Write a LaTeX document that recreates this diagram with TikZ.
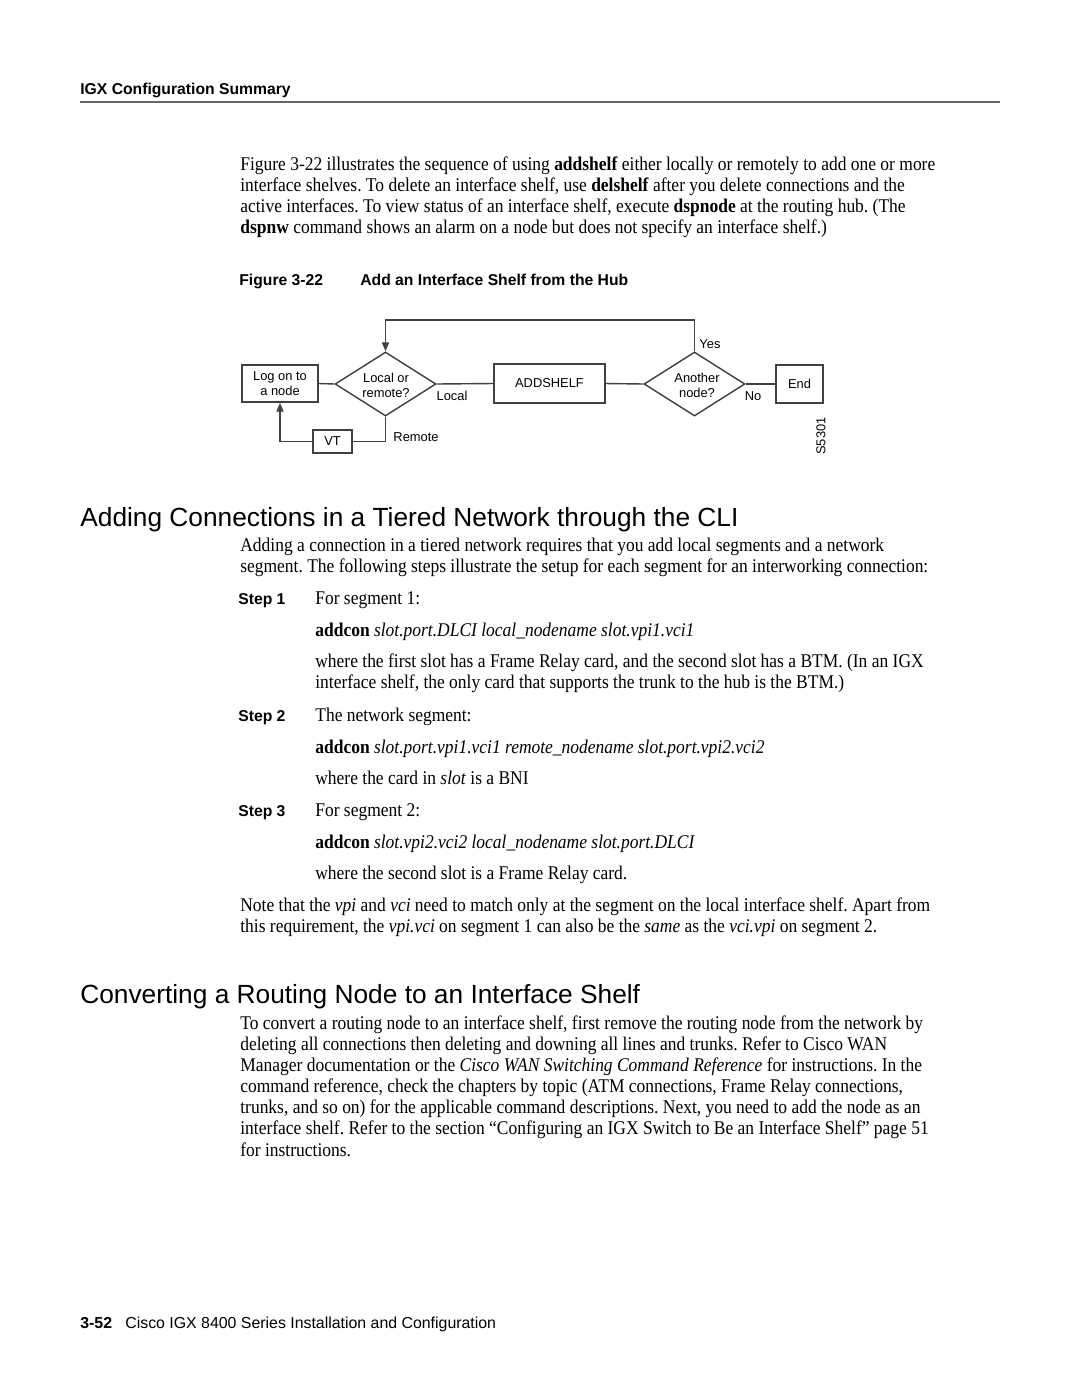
\documentclass[tikz,border=0pt]{standalone}
\usepackage{fontspec}
\setmainfont{Liberation Serif}[FakeStretch=0.9]
\setsansfont{Liberation Sans}
\usetikzlibrary{arrows.meta,shapes.geometric}
\definecolor{lc}{gray}{0.25}
\frenchspacing
\begin{document}
\begin{tikzpicture}[x=0.5667pt,y=-0.5667pt,
  body/.style={anchor=base west, inner sep=0, font=\fontsize{11}{12}\selectfont},
  sbold/.style={anchor=base west, inner sep=0, font=\fontsize{8.9}{10}\sffamily\bfseries},
  head/.style={anchor=base west, inner sep=0, font=\fontsize{14.9}{17}\sffamily},
  dg/.style={font=\fontsize{7.3}{8.6}\sffamily, inner sep=0, align=center},
  box/.style={rectangle, draw=lc, line width=0.8pt, dg},
  dia/.style={diamond, draw=lc, line width=0.8pt, inner sep=0, minimum width=57.2pt, minimum height=36.3pt},
  conn/.style={draw=lc, line width=0.8pt},
  arr/.style={conn, -{Triangle[length=5pt,width=4pt]}}]
\useasboundingbox[fill=white] (0,0) rectangle (1080,1397);

% header
\node[sbold] (hdr) at (80,94) {IGX Configuration Summary};
\draw[black!60, line width=1.1pt] (80,102) -- (1000,102);

% paragraph 1
\node[body] (p1a) at (240,170) {Figure 3-22 illustrates the sequence of using \textbf{addshelf} either locally or remotely to add one or more};
\node[body] (p1b) at (240,191) {interface shelves. To delete an interface shelf, use \textbf{delshelf} after you delete connections and the};
\node[body] (p1c) at (240,212) {active interfaces. To view status of an interface shelf, execute \textbf{dspnode} at the routing hub. (The};
\node[body] (p1d) at (240,233) {\textbf{dspnw} command shows an alarm on a node but does not specify an interface shelf.)};

% caption
\node[sbold] (capn) at (239,285) {Figure 3-22};
\node[sbold] (capt) at (360,285) {Add an Interface Shelf from the Hub};

% diagram
\node[box, minimum width=43.1pt, minimum height=21pt] (log) at (280,383.5) {Log on to\\a node};
\node[dia] (lr) at (385.5,384) {};
\node[dg] (lrt) at (386,385) {Local or\\remote?};
\node[box, minimum width=62.9pt, minimum height=22.1pt] (add) at (549.5,383.5) {ADDSHELF};
\node[dia] (an) at (694.5,384) {};
\node[dg] (ant) at (697,385) {Another\\node?};
\node[box, minimum width=26.6pt, minimum height=21.5pt] (end) at (799.5,384) {End};
\node[box, minimum width=22.1pt, minimum height=13pt] (vt) at (332.5,441.5) {VT};
\coordinate (top) at (385.5,320);

\draw[conn] (log.east) -- (lr.west);
\draw[conn] (lr.east) -- (add.west);
\draw[conn] (add.east) -- (an.west);
\draw[conn] (an.east) -- (end.west);
\draw[arr] (an.north) |- (top) -- (lr.north);
\draw[conn] (lr.south) |- (vt.east);
\draw[arr] (vt.west) -| (log.south);

\node[dg] (lloc) at (452,396) {Local};
\node[dg] (lrem) at (416,437) {Remote};
\node[dg] (lyes) at (710,344) {Yes};
\node[dg] (lno) at (753,396) {No};
\node[dg, rotate=90] (lid) at (821,436) {S5301};

% heading 1
\node[head] (h1) at (80,526) {Adding Connections in a Tiered Network through the CLI};
\node[body] (a1) at (240,551) {Adding a connection in a tiered network requires that you add local segments and a network};
\node[body] (a2) at (240,572) {segment. The following steps illustrate the setup for each segment for an interworking connection:};

\node[sbold] (s1) at (238,604) {Step 1};
\node[body] (s1a) at (315,604) {For segment 1:};
\node[body] (s1b) at (315,636) {\textbf{addcon} \textit{slot.port.DLCI local\_nodename slot.vpi1.vci1}};
\node[body] (s1c) at (315,667) {where the first slot has a Frame Relay card, and the second slot has a BTM. (In an IGX};
\node[body] (s1d) at (315,688) {interface shelf, the only card that supports the trunk to the hub is the BTM.)};

\node[sbold] (s2) at (238,721) {Step 2};
\node[body] (s2a) at (315,721) {The network segment:};
\node[body] (s2b) at (315,753) {\textbf{addcon} \textit{slot.port.vpi1.vci1 remote\_nodename slot.port.vpi2.vci2}};
\node[body] (s2c) at (315,784) {where the card in \textit{slot} is a BNI};

\node[sbold] (s3) at (238,816) {Step 3};
\node[body] (s3a) at (315,816) {For segment 2:};
\node[body] (s3b) at (315,848) {\textbf{addcon} \textit{slot.vpi2.vci2 local\_nodename slot.port.DLCI}};
\node[body] (s3c) at (315,879) {where the second slot is a Frame Relay card.};

\node[body] (n1) at (240,911) {Note that the \textit{vpi} and \textit{vci} need to match only at the segment on the local interface shelf. Apart from};
\node[body] (n2) at (240,932) {this requirement, the \textit{vpi.vci} on segment 1 can also be the \textit{same} as the \textit{vci.vpi} on segment 2.};

% heading 2
\node[head] (h2) at (80,1003) {Converting a Routing Node to an Interface Shelf};
\node[body] (c1) at (240,1029) {To convert a routing node to an interface shelf, first remove the routing node from the network by};
\node[body] (c2) at (240,1050) {deleting all connections then deleting and downing all lines and trunks. Refer to Cisco WAN};
\node[body] (c3) at (240,1071) {Manager documentation or the \textit{Cisco WAN Switching Command Reference} for instructions. In the};
\node[body] (c4) at (240,1092) {command reference, check the chapters by topic (ATM connections, Frame Relay connections,};
\node[body] (c5) at (240,1113) {trunks, and so on) for the applicable command descriptions. Next, you need to add the node as an};
\node[body] (c6) at (240,1134) {interface shelf. Refer to the section “Configuring an IGX Switch to Be an Interface Shelf” page 51};
\node[body] (c7) at (240,1156) {for instructions.};

% footer
\node[anchor=base west, inner sep=0, font=\fontsize{9}{10}\sffamily\bfseries] (fn) at (80,1328) {3-52};
\node[anchor=base west, inner sep=0, font=\fontsize{9}{10}\sffamily] (ft) at (125,1328) {Cisco IGX 8400 Series Installation and Configuration};
\end{tikzpicture}
\end{document}
